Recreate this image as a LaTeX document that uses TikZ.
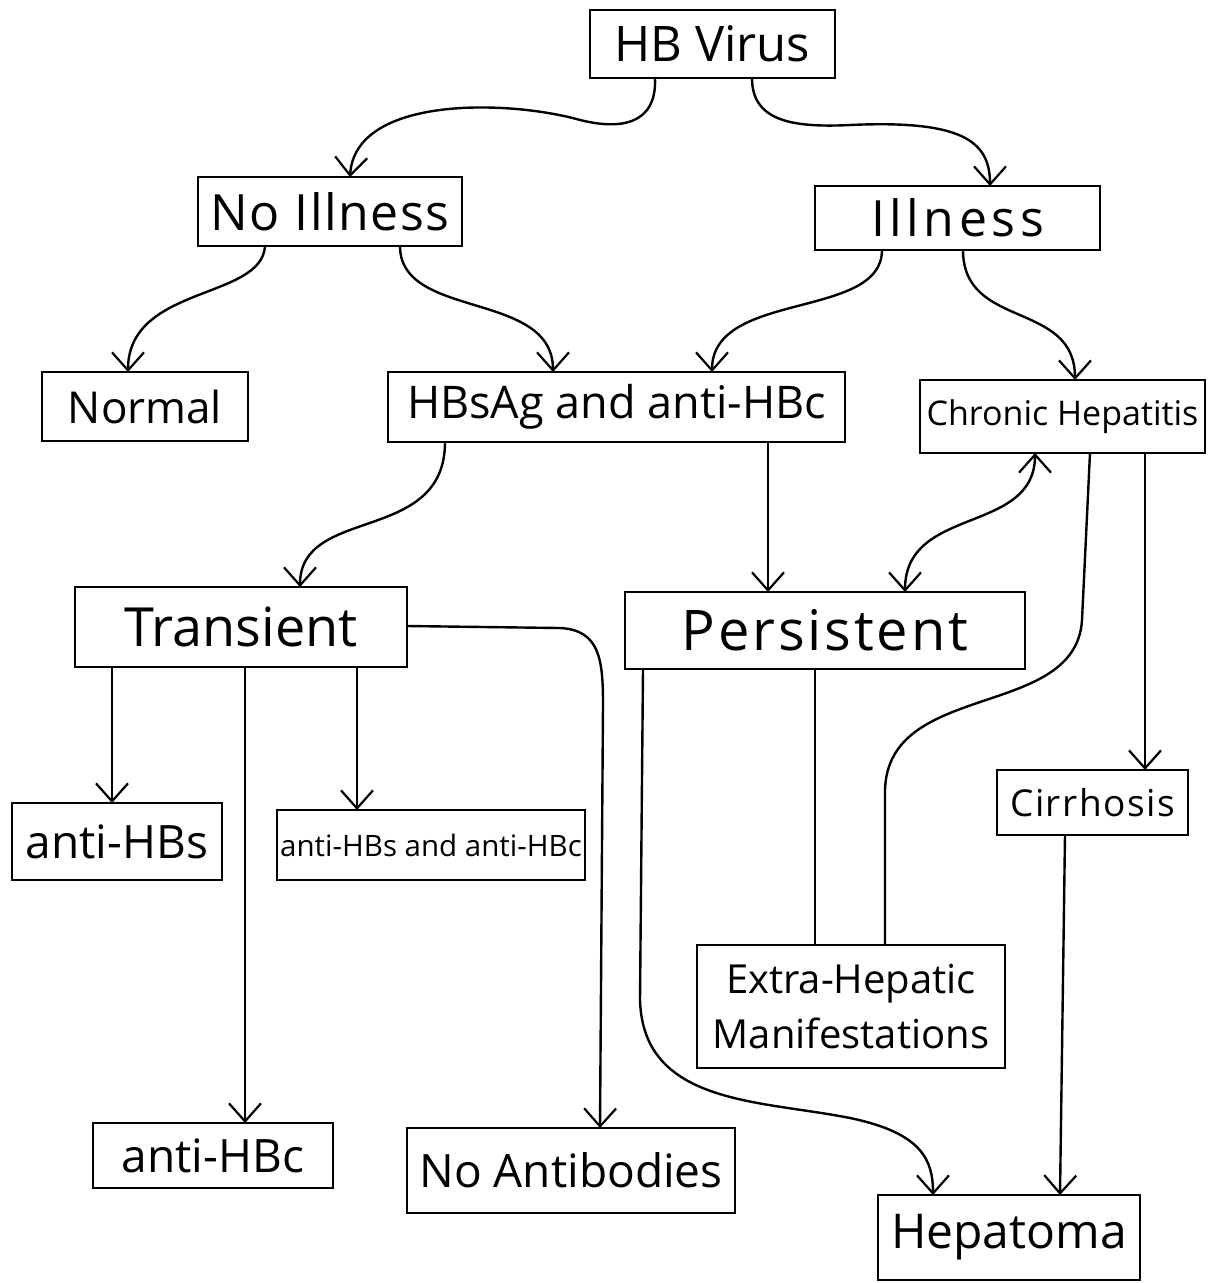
\documentclass[tikz,border=0pt]{standalone}
\usepackage{fontspec}
\setmainfont{Open Sans}
\usetikzlibrary{arrows.meta}
\tikzset{
  box/.style={draw, line width=2.4pt, inner sep=0pt, outer sep=0pt, align=center},
  conn/.style={line width=2.4pt, line cap=round, line join=round},
  arr/.style={conn, -{Straight Barb[length=18pt, width=32pt, line width=2.2pt]}},
  darr/.style={conn, {Straight Barb[length=18pt, width=32pt, line width=2.2pt]}-{Straight Barb[length=18pt, width=32pt, line width=2.2pt]}},
}
\newcommand{\fs}[1]{\fontsize{#1}{#1}\selectfont}
\newcommand{\ls}[1]{\addfontfeature{LetterSpace=#1}}
\begin{document}
\begin{tikzpicture}[x=1pt, y=-1pt]
\useasboundingbox (0,0) rectangle (1222,1283);
% nodes
\node[box, minimum width=245pt, minimum height=68pt] (virus) at (712.5,44) {\fs{49}HB Virus};
\node[box, minimum width=264pt, minimum height=69pt] (noill) at (330,211.5) {\fs{50}\ls{3}No Illness};
\node[box, minimum width=285pt, minimum height=64pt] (ill) at (957.5,218) {\fs{50}\ls{9}Illness};
\node[box, minimum width=206pt, minimum height=69pt] (normal) at (145,406.5) {\fs{44}Normal};
\node[box, minimum width=457pt, minimum height=70pt] (hbsag) at (616.5,407) {\fs{45}HBsAg and anti-HBc};
\node[box, minimum width=285pt, minimum height=73pt] (chronic) at (1062.5,416.5) {\fs{34}Chronic Hepatitis};
\node[box, minimum width=332pt, minimum height=80pt] (transient) at (241,627) {\fs{54}Transient};
\node[box, minimum width=400pt, minimum height=77pt] (persistent) at (825,630.5) {\fs{56}\ls{5}Persistent};
\node[box, minimum width=210pt, minimum height=77pt] (antihbs) at (117,841.5) {\fs{46}anti-HBs};
\node[box, minimum width=308pt, minimum height=70pt] (both) at (431,845) {\fs{29.5}anti-HBs and anti-HBc};
\node[box, minimum width=191pt, minimum height=65pt] (cirr) at (1092.5,802.5) {\fs{37}\ls{4}Cirrhosis};
\node[box, minimum width=308pt, minimum height=123pt] (extra) at (851,1006.5) {\fs{40}Extra-Hepatic\\[14pt]\fs{40}Manifestations};
\node[box, minimum width=240pt, minimum height=65pt] (antihbc) at (213,1155.5) {\fs{46}anti-HBc};
\node[box, minimum width=328pt, minimum height=85pt] (noanti) at (571,1170.5) {\fs{46}No Antibodies};
\node[box, minimum width=262pt, minimum height=85pt] (hepatoma) at (1009,1237.5) {\fs{48}Hepatoma};
% connectors
\draw[arr] ([xshift=-57.5pt]virus.south) .. controls (657,125) and (620,130) .. (580,120)
   .. controls (510,100) and (355,95) .. ([xshift=20pt]noill.north);
\draw[arr] ([xshift=39.5pt]virus.south) .. controls (752,120) and (790,128) .. (850,125)
   .. controls (960,120) and (990,140) .. ([xshift=32.5pt]ill.north);
\draw[arr] ([xshift=-65pt]noill.south) .. controls (262,300) and (128,285) .. ([xshift=-17pt]normal.north);
\draw[arr] ([xshift=70pt]noill.south) .. controls (400,320) and (553,290) .. ([xshift=-63.5pt]hbsag.north);
\draw[arr] ([xshift=-75.5pt]ill.south) .. controls (882,320) and (712,290) .. ([xshift=95.5pt]hbsag.north);
\draw[arr] ([xshift=5.5pt]ill.south) .. controls (963,330) and (1075,300) .. ([xshift=12.5pt]chronic.north);
\draw[arr] ([xshift=-171.5pt]hbsag.south) .. controls (445,545) and (300,505) .. ([xshift=59pt]transient.north);
\draw[arr] ([xshift=151.5pt]hbsag.south) -- ([xshift=-57pt]persistent.north);
\draw[darr] ([xshift=-27.5pt]chronic.south) .. controls (1035,535) and (905,505) .. ([xshift=80pt]persistent.north);
\draw[conn] ([xshift=27.5pt]chronic.south) -- (1082,620) .. controls (1076,720) and (888,680) .. (885,790)
   -- ([xshift=34pt]extra.north);
\draw[arr] ([xshift=82.5pt]chronic.south) -- ([xshift=52.5pt]cirr.north);
\draw[conn] ([xshift=-10pt]persistent.south) -- ([xshift=-36pt]extra.north);
\draw[arr] ([xshift=-182pt]persistent.south) -- (640,1000) .. controls (643,1105) and (760,1100) .. (850,1118)
   .. controls (922,1133) and (933,1160) .. ([xshift=-76pt]hepatoma.north);
\draw[arr] ([xshift=-27.5pt]cirr.south) -- ([xshift=51pt]hepatoma.north);
\draw[arr] ([xshift=-129pt]transient.south) -- ([xshift=-5pt]antihbs.north);
\draw[arr] ([xshift=4pt]transient.south) -- ([xshift=32pt]antihbc.north);
\draw[arr] ([xshift=116pt]transient.south) -- ([xshift=-74pt]both.north);
\draw[arr] ([yshift=1pt]transient.east) -- (560,628) .. controls (600,630) and (603,660) .. (603,705)
   -- ([xshift=29pt]noanti.north);
\end{tikzpicture}
\end{document}
